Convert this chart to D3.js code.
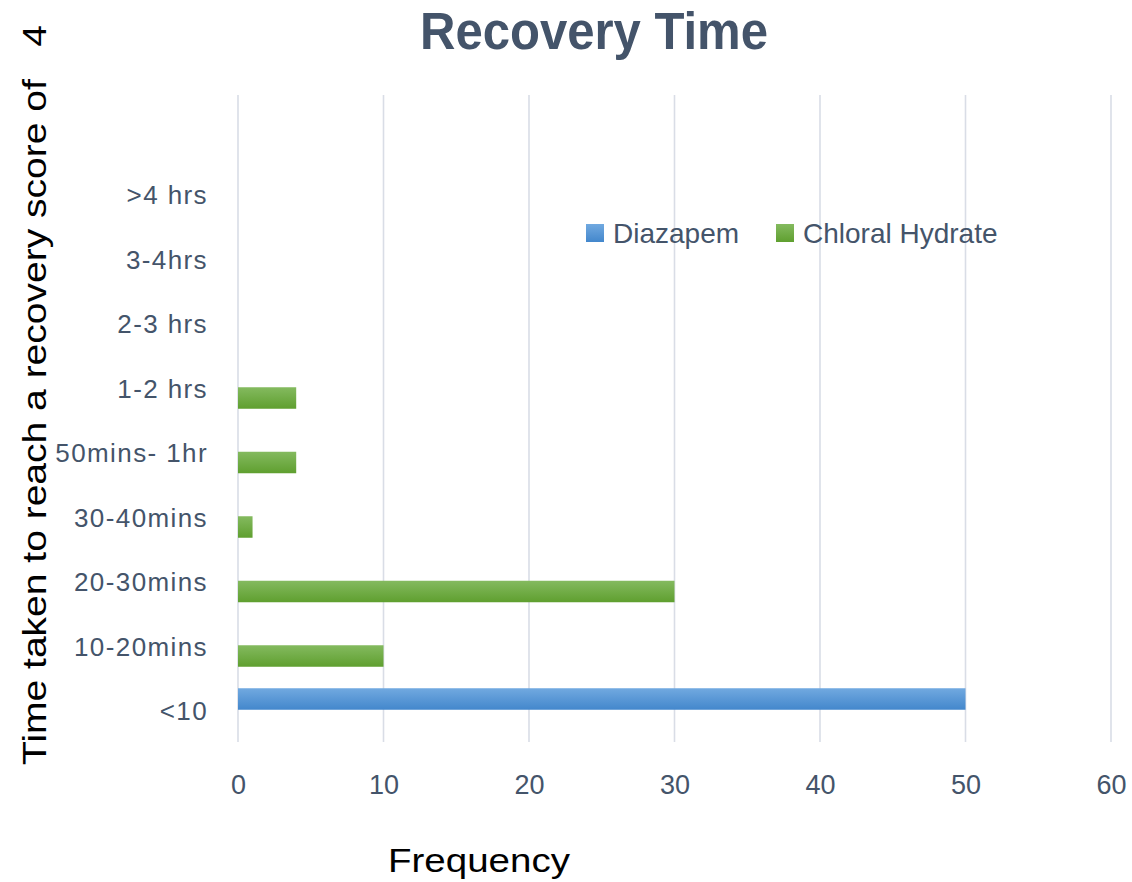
<!DOCTYPE html>
<html><head><meta charset="utf-8">
<script src="https://cdn.jsdelivr.net/npm/d3@7"></script>
<style>body{margin:0;background:#fff;} svg{display:block;}</style>
</head><body>
<script>
const categories = ["<10","10-20mins","20-30mins","30-40mins","50mins- 1hr","1-2 hrs","2-3 hrs","3-4hrs",">4 hrs"];
const seriesNames = ["Diazapem","Chloral Hydrate"];
const diazapem = [50,0,0,0,0,0,0,0,0];
const chloral  = [0,10,30,1,4,4,0,0,0];
const xTicks = [0,10,20,30,40,50,60];

const W=1132,H=882;
const svg=d3.select("body").append("svg").attr("width",W).attr("height",H);
const defs=svg.append("defs");
function grad(id,c1,c2){const g=defs.append("linearGradient").attr("id",id).attr("x1",0).attr("y1",0).attr("x2",0).attr("y2",1);
 g.append("stop").attr("offset","0%").attr("stop-color",c1);g.append("stop").attr("offset","100%").attr("stop-color",c2);}
grad("gBlue","#71a9e0","#4387cc");
grad("gGreen","#84ba5f","#5f9f2f");
const fills=["url(#gBlue)","url(#gGreen)"];
const legendFills=[["#71a9e0","#4387cc"],["#84ba5f","#5f9f2f"]];

const plotTop=95, plotBottom=742, left=238, right=1111;
const x=d3.scaleLinear().domain([0,60]).range([left,right]);
const y=d3.scaleBand().domain(categories).range([plotBottom,plotBottom-64.5*categories.length]).paddingInner(0.3333).paddingOuter(0.16667);
const inner=d3.scaleBand().domain(seriesNames).range([0,y.bandwidth()]);

// gridlines
svg.append("g").selectAll("line").data(xTicks).join("line")
 .attr("x1",d=>x(d)).attr("x2",d=>x(d)).attr("y1",plotTop).attr("y2",plotBottom)
 .attr("stroke","#d9dde6").attr("stroke-width",1.6);

// bars
const series=[diazapem,chloral];
series.forEach((vals,si)=>{
 svg.append("g").selectAll("rect").data(categories.map((c,i)=>({c,v:vals[i]})).filter(d=>d.v>0)).join("rect")
  .attr("x",x(0)).attr("y",d=>y(d.c)+inner(seriesNames[si])).attr("width",d=>x(d.v)-x(0)).attr("height",inner.bandwidth())
  .attr("fill",fills[si]);
});

// x axis labels
const xa=svg.append("g").attr("transform",`translate(0,${plotBottom})`).call(d3.axisBottom(x).tickValues(xTicks).tickSize(0).tickPadding(33));
xa.select(".domain").remove();
xa.selectAll("text").attr("font-family","Liberation Sans, Arial, sans-serif").attr("font-size",27).attr("fill","#44546a");

// y axis labels
const ya=svg.append("g").attr("transform",`translate(${left},0)`).call(d3.axisLeft(y).tickSize(0).tickPadding(30));
ya.select(".domain").remove();
ya.selectAll("text").attr("font-family","Liberation Sans, Arial, sans-serif").attr("font-size",26)
 .attr("letter-spacing","1.4px").attr("dy","0.4em").attr("fill","#44546a");

// title
svg.append("text").attr("x",594).attr("y",49).attr("text-anchor","middle")
 .attr("font-family","Liberation Sans, Arial, sans-serif").attr("font-weight","bold").attr("font-size",51)
 .attr("fill","#44546a").attr("textLength",348).attr("lengthAdjust","spacingAndGlyphs").text("Recovery Time");

// axis titles
svg.append("text").attr("x",479).attr("y",872).attr("text-anchor","middle")
 .attr("font-family","Liberation Sans, Arial, sans-serif").attr("font-size",33).attr("fill","#000")
 .attr("textLength",182).attr("lengthAdjust","spacingAndGlyphs").text("Frequency");
svg.append("text").attr("transform","translate(46,395) rotate(-90)").attr("text-anchor","middle")
 .attr("font-family","Liberation Sans, Arial, sans-serif").attr("font-size",33).attr("fill","#000")
 .attr("xml:space","preserve").style("white-space","pre")
 .attr("textLength",740).attr("lengthAdjust","spacingAndGlyphs").text("Time taken to reach a recovery score of   4");

// legend
const legX=[586,776];
seriesNames.forEach((n,i)=>{
 const gid="lg"+i; grad(gid,legendFills[i][0],legendFills[i][1]);
 svg.append("rect").attr("x",legX[i]).attr("y",224).attr("width",18).attr("height",18).attr("fill",`url(#${gid})`);
 svg.append("text").attr("x",legX[i]+27).attr("y",243).attr("font-family","Liberation Sans, Arial, sans-serif")
  .attr("font-size",28).attr("fill","#44546a").text(n);
});
</script>
</body></html>
